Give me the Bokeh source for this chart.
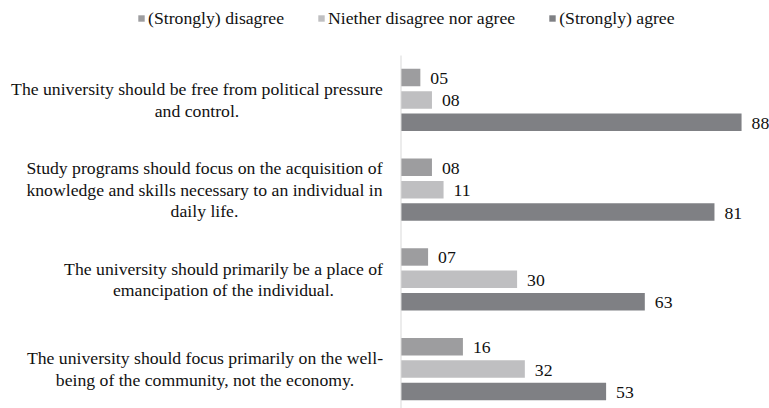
from bokeh.plotting import figure
from bokeh.models import Range1d, ColumnDataSource
from bokeh.core.properties import value
from bokeh.embed import file_html
from bokeh.resources import INLINE

# ---- data ----
statements = [
    ["The university should be free from political pressure", "and control."],
    ["Study programs should focus on the acquisition of",
     "knowledge and skills necessary to an individual in", "daily life."],
    ["The university should primarily be a place of", "emancipation of the individual."],
    ["The university should focus primarily on the well-",
     "being of the community, not the economy."],
]
responses = ["(Strongly) disagree", "Niether disagree nor agree", "(Strongly) agree"]
disagree = [5, 8, 7, 16]
neither = [8, 11, 30, 32]
agree = [88, 81, 63, 53]
series = [disagree, neither, agree]

# ---- style / layout ----
colors = ["#9d9d9f", "#bfbfc1", "#7f8084"]
FONT_NAME = "'Liberation Serif', 'Times New Roman', serif"
FONT = value(FONT_NAME)
FS = "17.7px"
TXT = "#111111"
W, H = 769, 408
X0_PX = 400.5          # screen x of value 0
X_SCALE = 3.87         # px per unit
Y0_PX = 77.0           # screen y of first bar
Y_STEP = 22.43         # px per bar slot
label_centers = [196.5, 204.0, 223.0, 204.5]   # px centers of category blocks
LINE_H = 21.5

x_range = Range1d(-X0_PX / X_SCALE, (W - X0_PX) / X_SCALE)
y_range = Range1d(-(H - Y0_PX) / Y_STEP, Y0_PX / Y_STEP)

p = figure(width=W, height=H, x_range=x_range, y_range=y_range,
           min_border=0, toolbar_location=None, output_backend="svg",
           x_axis_location=None, y_axis_location=None)
p.extra_x_ranges = {"px": Range1d(0, W)}
p.extra_y_ranges = {"px": Range1d(H, 0)}
p.grid.visible = False
p.outline_line_color = None
p.background_fill_color = "white"
p.border_fill_color = "white"

n_groups = len(statements)

# bars
for r, (name, vals, col) in enumerate(zip(responses, series, colors)):
    ys = [-(g * 4 + r) for g in range(n_groups)]
    src = ColumnDataSource(dict(y=ys, v=vals, lab=["%02d" % v for v in vals]))
    p.hbar(y="y", left=0, right="v", height=0.78, source=src,
           fill_color=col, line_color=None, legend_label=name)
    p.text(x="v", y="y", text="lab", source=src, x_offset=10, y_offset=1,
           text_align="left", text_baseline="middle", text_font=FONT,
           text_font_size=FS, text_color=TXT)

# axis line
p.segment(x0=[0], x1=[0], y0=[55], y1=[H], y_range_name="px",
          line_color="#d9d9d9", line_width=1)

# category labels
lx, ly, loff, ltxt = [], [], [], []
for g, lines in enumerate(statements):
    n = len(lines)
    for k, line in enumerate(lines):
        lx.append(label_centers[g])
        ly.append(-(g * 4 + 1))
        loff.append((k - (n - 1) / 2) * LINE_H)
        ltxt.append(line)
lsrc = ColumnDataSource(dict(x=lx, y=ly, off=loff, t=ltxt))
p.text(x="x", y="y", y_offset="off", text="t", source=lsrc, x_range_name="px",
       text_align="center", text_baseline="middle", text_font=FONT,
       text_font_size=FS, text_color=TXT)

# legend
lg = p.legend[0]
lg.orientation = "horizontal"
lg.location = (137, H - 28.5)
lg.padding = 0
lg.margin = 0
lg.spacing = 33
lg.glyph_width = 8
lg.glyph_height = 8
lg.label_standoff = 3
lg.label_height = 16
lg.label_text_font = FONT_NAME
lg.label_text_font_size = FS
lg.label_text_color = TXT
lg.border_line_color = None
lg.background_fill_alpha = 0
lg.inactive_fill_alpha = 0

open("out.html", "w").write(file_html(p, INLINE))
